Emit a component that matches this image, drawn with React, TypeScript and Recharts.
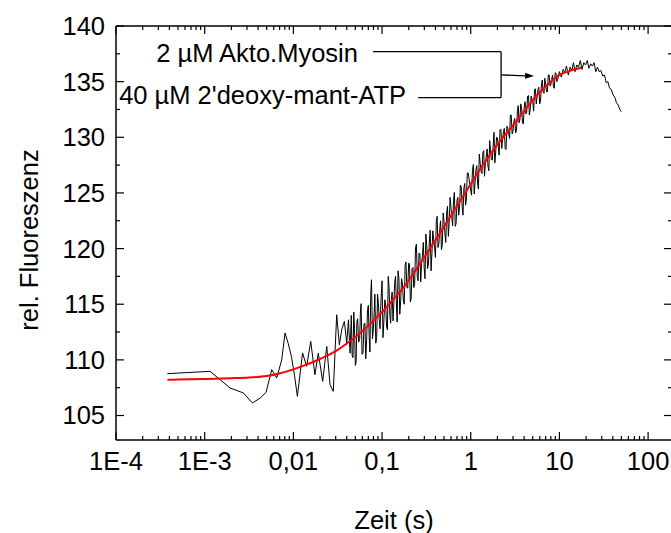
import React from 'react';
import { ComposedChart, Line, XAxis, YAxis, ReferenceLine, ReferenceDot } from 'recharts';

// ---- measured trace (black), in segments ----
const blackTimeEarly = [0.00038, 0.00115, 0.00193, 0.00273, 0.00345, 0.0042, 0.00492, 0.0057, 0.00649, 0.00739, 0.00805, 0.00877, 0.0095, 0.0103, 0.0111, 0.0127, 0.0141, 0.0157, 0.0175, 0.0191, 0.0214, 0.0238, 0.0259, 0.0282, 0.0308, 0.033, 0.0351, 0.0376, 0.04, 0.0418, 0.0436];
const blackValueEarly = [108.76, 108.97, 107.48, 107.03, 106.13, 106.55, 107.08, 109.12, 108.37, 110.0, 112.41, 111.45, 110.3, 108.6, 106.73, 110.62, 109.42, 111.66, 108.67, 110.62, 108.07, 111.21, 107.77, 107.17, 114.06, 111.36, 112.71, 113.46, 111.51, 113.6, 110.6];

const blackTimeRise = [0.045, 0.047, 0.049, 0.051, 0.053, 0.056, 0.058, 0.061, 0.064, 0.067, 0.070, 0.073, 0.076, 0.080, 0.083, 0.087, 0.091, 0.095, 0.10, 0.105, 0.11, 0.115, 0.12, 0.125, 0.13, 0.136, 0.142, 0.148, 0.155, 0.162, 0.17, 0.178, 0.186, 0.195, 0.204, 0.213, 0.223, 0.233, 0.244, 0.255, 0.267, 0.279, 0.292, 0.305, 0.319, 0.334, 0.349, 0.365, 0.382, 0.4, 0.418, 0.437, 0.457, 0.478, 0.5, 0.523, 0.547, 0.572, 0.598, 0.625, 0.654, 0.684, 0.715, 0.748, 0.782, 0.818, 0.855, 0.894, 0.935];
const blackValueRise = [114.0, 110.2, 112.7, 109.8, 113.7, 111.9, 115.05, 110.6, 113.3, 111.8, 114.9, 110.7, 117.2, 112.8, 115.9, 112.0, 115.05, 112.8, 117.1, 113.6, 114.85, 112.7, 116.5, 113.3, 116.1, 115.1, 117.5, 113.4, 117.3, 115.2, 116.8, 115.0, 118.8, 116.45, 118.6, 115.5, 118.3, 116.75, 120.4, 117.1, 119.55, 118.65, 120.55, 117.3, 120.3, 118.7, 121.65, 119.55, 120.85, 119.2, 122.9, 120.4, 122.5, 120.35, 122.45, 120.55, 123.8, 122.35, 123.75, 122.05, 125.05, 122.25, 124.6, 123.75, 125.55, 123.0, 125.85, 124.45, 126.8];

const blackTimeRiseB = [0.046, 0.048, 0.050, 0.052, 0.0545, 0.057, 0.0595, 0.0625, 0.0655, 0.0685, 0.0715, 0.0745, 0.078, 0.0815, 0.085, 0.089, 0.093, 0.0975, 0.1025, 0.1075, 0.1125, 0.1175, 0.1225, 0.1275, 0.133, 0.139, 0.145, 0.1515, 0.1585, 0.166, 0.174, 0.182, 0.1905, 0.1995, 0.2085, 0.218, 0.228, 0.2385, 0.2495, 0.261, 0.273, 0.2855, 0.2985, 0.312, 0.3265, 0.3415, 0.357, 0.3735, 0.391, 0.409, 0.4275, 0.447, 0.4675, 0.489, 0.5115, 0.535, 0.5595, 0.585, 0.6115, 0.6395, 0.669, 0.6995, 0.7315, 0.765, 0.8, 0.8365, 0.8745, 0.9145];
const blackValueRiseB = [110.4, 114.3, 109.5, 113.4, 111.6, 114.3, 110.5, 113.2, 110.1, 114.4, 112.2, 115.8, 111.9, 114.2, 111.5, 115.9, 113.6, 115.5, 112.0, 115.4, 113.0, 117.5, 114.0, 115.4, 113.5, 117.0, 115.1, 118.0, 114.1, 117.3, 115.3, 118.5, 116.5, 118.7, 115.2, 118.2, 116.5, 120.1, 117.5, 119.6, 117.0, 119.4, 118.3, 121.3, 118.2, 120.6, 118.0, 121.6, 120.1, 122.5, 120.1, 121.7, 119.9, 123.2, 121.4, 123.2, 121.1, 124.6, 122.8, 124.3, 122.0, 124.3, 123.0, 125.7, 123.8, 125.4, 123.9, 126.8];

const blackTimeUpper = [1.02, 1.07, 1.12, 1.17, 1.22, 1.28, 1.34, 1.4, 1.46, 1.53, 1.6, 1.67, 1.75, 1.83, 1.91, 2.0, 2.09, 2.19, 2.29, 2.39, 2.5, 2.62, 2.74, 2.86, 3.0, 3.13, 3.28, 3.43, 3.58, 3.75, 3.92, 4.1, 4.28, 4.48, 4.68, 4.9, 5.12, 5.36, 5.6, 5.86, 6.12, 6.4, 6.7, 7.0, 7.32, 7.66, 8.0, 8.37, 8.75, 9.15, 9.57];
const blackValueUpper = [124.8, 127.55, 126.0, 127.45, 125.35, 127.65, 126.75, 128.8, 127.55, 128.95, 127.0, 128.9, 127.95, 130.45, 128.6, 129.95, 128.4, 130.7, 129.85, 130.8, 128.9, 130.75, 129.9, 132.0, 130.55, 131.7, 130.6, 132.85, 131.55, 132.6, 131.2, 133.2, 132.25, 133.75, 132.45, 133.45, 132.35, 134.35, 133.6, 134.5, 133.25, 135.15, 133.95, 134.8, 134.1, 135.6, 134.7, 135.6, 134.4, 135.75, 135.2];

const blackTimeUpperB = [1.045, 1.095, 1.145, 1.195, 1.25, 1.31, 1.37, 1.43, 1.495, 1.565, 1.635, 1.71, 1.79, 1.87, 1.955, 2.045, 2.14, 2.24, 2.34, 2.445, 2.56, 2.68, 2.8, 2.93, 3.065, 3.205, 3.355, 3.505, 3.665, 3.835, 4.01, 4.19, 4.38, 4.58, 4.79, 5.01, 5.24, 5.48, 5.73, 5.99, 6.26, 6.55, 6.85, 7.16, 7.49, 7.83, 8.185, 8.56, 8.95, 9.36];
const blackValueUpperB = [127.0, 124.9, 127.1, 125.9, 128.5, 126.9, 128.6, 126.5, 128.2, 127.4, 129.7, 128.0, 129.2, 127.7, 130.0, 129.2, 130.7, 129.0, 130.5, 129.0, 131.0, 130.3, 132.0, 130.3, 131.4, 130.4, 132.3, 131.3, 133.0, 131.3, 132.7, 132.1, 133.7, 132.0, 133.7, 133.1, 134.3, 133.0, 134.3, 133.0, 134.6, 134.1, 135.3, 134.1, 135.6, 134.6, 135.2, 134.5, 135.8, 135.0];

const blackTimeLate = [10, 10.5, 11, 11.5, 12, 12.6, 13.2, 13.8, 14.4, 15, 15.7, 16.4, 17.2, 18, 18.8, 19.7, 20.6, 21.5, 22.5, 23.5, 24.6, 25.7, 26.9, 28.1, 29.4, 30.8, 32.2, 33.7, 35.2, 36.8, 38.5, 40.3, 42.1, 44, 46, 48, 50];
const blackValueLate = [135.9, 135.4, 136.1, 135.8, 136.4, 135.6, 136.3, 136.0, 136.7, 135.9, 136.5, 136.3, 136.9, 136.1, 136.7, 136.5, 136.9, 136.2, 136.6, 136.4, 136.7, 135.9, 136.3, 135.9, 136.0, 135.5, 135.6, 134.9, 135.0, 134.4, 134.3, 133.8, 133.6, 133.1, 132.9, 132.5, 132.3];

// ---- fit curve (red) ----
const redTime = [0.00038, 0.0005, 0.001, 0.002, 0.00316, 0.005, 0.0071, 0.01, 0.0133, 0.0178, 0.0237, 0.0316, 0.0422, 0.0562, 0.075, 0.1, 0.133, 0.178, 0.237, 0.316, 0.422, 0.562, 0.75, 1, 1.33, 1.78, 2.37, 3.16, 4.22, 5.62, 7.5, 10, 13, 17.5];
const redValue = [108.22, 108.23, 108.28, 108.35, 108.42, 108.55, 108.8, 109.15, 109.5, 109.9, 110.35, 110.9, 111.6, 112.4, 113.3, 114.3, 115.4, 116.6, 118.0, 119.5, 121.05, 122.6, 124.2, 125.8, 127.35, 128.8, 130.1, 131.3, 132.6, 133.8, 134.8, 135.6, 135.95, 136.25];

// ---- axes ----
const xMajorTicks = [0.0001, 0.001, 0.01, 0.1, 1, 10, 100];
const xTickLabels = ['1E-4', '1E-3', '0,01', '0,1', '1', '10', '100'];
const xMinorMultipliers = [2, 3, 4, 5, 6, 7, 8, 9];
const yMajorTicks = [105, 110, 115, 120, 125, 130, 135, 140];
const yMinorTicks = [107.5, 112.5, 117.5, 122.5, 127.5, 132.5, 137.5];

const xMinorTicks: number[] = [];
xMajorTicks.slice(0, -1).forEach((d) => xMinorMultipliers.forEach((m) => xMinorTicks.push(d * m)));
const xAllTicks = [...xMajorTicks, ...xMinorTicks].sort((a, b) => a - b);
const yAllTicks = [...yMajorTicks, ...yMinorTicks].sort((a, b) => a - b);

const blackTime = [...blackTimeEarly, ...blackTimeRise, ...blackTimeRiseB, ...blackTimeUpper, ...blackTimeUpperB, ...blackTimeLate];
const blackValue = [...blackValueEarly, ...blackValueRise, ...blackValueRiseB, ...blackValueUpper, ...blackValueUpperB, ...blackValueLate];
const blackData = blackTime.map((t, i) => ({ t, v: blackValue[i] })).sort((a, b) => a.t - b.t);
const redData = redTime.map((t, i) => ({ t, v: redValue[i] }));

const FONT = '"Liberation Sans", Arial, sans-serif';
const FS = 25.5;

const isMajorX = (v: number) => xMajorTicks.indexOf(v);

const bottomTick = (p: any) => {
  const v = p.payload.value;
  const i = isMajorX(v);
  const major = i >= 0;
  return (
    <g>
      <line x1={p.x} x2={p.x} y1={p.y} y2={p.y - (major ? 8 : 4)} stroke="#000" strokeWidth={1.2} />
      {major && (
        <text x={p.x} y={p.y + 30} textAnchor="middle" fontSize={FS} fontFamily={FONT} fill="#000">
          {xTickLabels[i]}
        </text>
      )}
    </g>
  );
};

const topTick = (p: any) => {
  const major = isMajorX(p.payload.value) >= 0;
  return <line x1={p.x} x2={p.x} y1={p.y} y2={p.y + (major ? 8 : 4)} stroke="#000" strokeWidth={1.2} />;
};

const leftTick = (p: any) => {
  const v = p.payload.value;
  const major = yMajorTicks.indexOf(v) >= 0;
  return (
    <g>
      <line x1={p.x} x2={p.x + (major ? 8 : 4)} y1={p.y} y2={p.y} stroke="#000" strokeWidth={1.2} />
      {major && (
        <text x={p.x - 11} y={p.y} dy="0.35em" textAnchor="end" fontSize={FS} fontFamily={FONT} fill="#000">
          {v}
        </text>
      )}
    </g>
  );
};

const rightTick = (p: any) => {
  const major = yMajorTicks.indexOf(p.payload.value) >= 0;
  return <line x1={p.x} x2={p.x - (major ? 8 : 4)} y1={p.y} y2={p.y} stroke="#000" strokeWidth={1.2} />;
};

const arrowShape = (p: any) => {
  const { x1, y1, x2, y2 } = p;
  const ang = Math.atan2(y2 - y1, x2 - x1);
  const L = 9, Wd = 3;
  const bx = x2 - L * Math.cos(ang), by = y2 - L * Math.sin(ang);
  const px = -Math.sin(ang) * Wd, py = Math.cos(ang) * Wd;
  return (
    <g>
      <line x1={x1} y1={y1} x2={bx} y2={by} stroke="#000" strokeWidth={1.3} />
      <polygon points={`${x2},${y2} ${bx + px},${by + py} ${bx - px},${by - py}`} fill="#000" />
    </g>
  );
};

const annot = (text: string, dx: number, dy: number) => (p: any) => (
  <text x={p.viewBox.x + p.viewBox.width / 2 + dx} y={p.viewBox.y + p.viewBox.height / 2 + dy} dy="0.35em" textAnchor="end" fontSize={FS} fontFamily={FONT} fill="#000">
    {text}
  </text>
);

export default function App() {
  return (
    <div style={{ position: 'absolute', left: 0, top: 0, width: 671, height: 533, overflow: 'hidden', background: '#fff' }}>
      <ComposedChart width={680} height={533} margin={{ top: 25, right: 7, bottom: 92, left: 115 }}>
        <XAxis
          xAxisId="b" type="number" dataKey="t" scale="log" domain={[0.0001, 186]} allowDataOverflow
          ticks={xAllTicks} interval={0} tickSize={0} tickMargin={0} tickLine={false} height={1}
          axisLine={{ stroke: '#000', strokeWidth: 1.5 }} tick={bottomTick}
          label={{
            content: (p: any) => (
              <text x={p.viewBox.x + p.viewBox.width / 2} y={p.viewBox.y + 89} textAnchor="middle" fontSize={FS} fontFamily={FONT} fill="#000">
                Zeit (s)
              </text>
            ),
          }}
        />
        <XAxis
          xAxisId="t" orientation="top" type="number" dataKey="t" scale="log" domain={[0.0001, 186]} allowDataOverflow
          ticks={xAllTicks} interval={0} tickSize={0} tickMargin={0} tickLine={false} height={1}
          axisLine={{ stroke: '#000', strokeWidth: 1.5 }} tick={topTick}
        />
        <YAxis
          yAxisId="l" type="number" domain={[102.8, 140]} allowDataOverflow
          ticks={yAllTicks} interval={0} tickSize={0} tickMargin={0} tickLine={false} width={1}
          axisLine={{ stroke: '#000', strokeWidth: 1.5 }} tick={leftTick}
          label={{
            content: (p: any) => {
              const cx = p.viewBox.x - 86;
              const cy = p.viewBox.y + p.viewBox.height / 2 + 7;
              return (
                <text transform={`translate(${cx},${cy}) rotate(-90)`} textAnchor="middle" dy="0.35em" fontSize={FS} fontFamily={FONT} fill="#000">
                  rel. Fluoreszenz
                </text>
              );
            },
          }}
        />
        <YAxis
          yAxisId="r" orientation="right" type="number" domain={[102.8, 140]} allowDataOverflow
          ticks={yAllTicks} interval={0} tickSize={0} tickMargin={0} tickLine={false} width={1}
          axisLine={{ stroke: '#000', strokeWidth: 1.5 }} tick={rightTick}
        />
        <Line xAxisId="b" yAxisId="l" data={blackData} dataKey="v" type="linear" stroke="#000" strokeWidth={1} dot={false} isAnimationActive={false} />
        <Line xAxisId="t" yAxisId="r" data={redData} dataKey="v" type="monotone" stroke="#ff0000" strokeWidth={2} dot={false} isAnimationActive={false} />

        <ReferenceLine xAxisId="b" yAxisId="l" segment={[{ x: 0.079, y: 137.69 }, { x: 2.2, y: 137.69 }]} stroke="#000" strokeWidth={1.3} ifOverflow="visible" />
        <ReferenceLine xAxisId="b" yAxisId="l" segment={[{ x: 0.255, y: 133.57 }, { x: 2.2, y: 133.57 }]} stroke="#000" strokeWidth={1.3} ifOverflow="visible" />
        <ReferenceLine xAxisId="b" yAxisId="l" segment={[{ x: 2.2, y: 137.69 }, { x: 2.2, y: 133.57 }]} stroke="#000" strokeWidth={1.3} ifOverflow="visible" />
        <ReferenceLine xAxisId="b" yAxisId="l" segment={[{ x: 2.2, y: 135.6 }, { x: 5.18, y: 135.5 }]} shape={arrowShape} ifOverflow="visible" />
        <ReferenceDot xAxisId="b" yAxisId="l" x={0.079} y={137.69} r={1} fill="none" stroke="none" ifOverflow="visible" label={annot('2 µM Akto.Myosin', -15, 1)} />
        <ReferenceDot xAxisId="b" yAxisId="l" x={0.255} y={133.57} r={1} fill="none" stroke="none" ifOverflow="visible" label={annot("40 µM 2'deoxy-mant-ATP", -12, -2)} />
      </ComposedChart>
    </div>
  );
}
